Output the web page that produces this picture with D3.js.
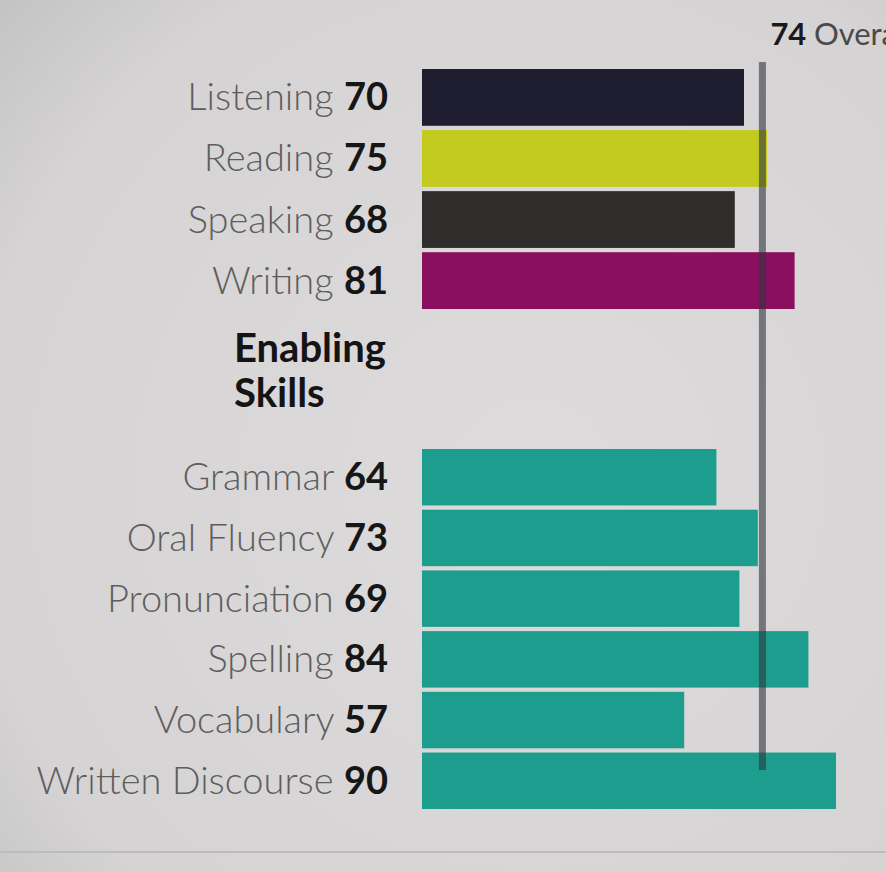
<!DOCTYPE html>
<html>
<head>
<meta charset="utf-8">
<script src="https://cdn.jsdelivr.net/npm/d3@7"></script>
<style>
  html, body { margin: 0; padding: 0; background: #d6d4d4; }
  svg { display: block; }
</style>
</head>
<body>
<svg id="chart" width="886" height="872"></svg>
<script>
// ---- data ----
const communicativeSkills = ["Listening", "Reading", "Speaking", "Writing"];
const communicativeScores = [70, 75, 68, 81];
const communicativeColors = ["#1f1e30", "#c3cb1f", "#2f2d2b", "#8b0f5f"];

const enablingSkills = ["Grammar", "Oral Fluency", "Pronunciation", "Spelling", "Vocabulary", "Written Discourse"];
const enablingScores = [64, 73, 69, 84, 57, 90];
const enablingColor = "#1c9d8e";

const overallScore = 74;
const overallLabel = "Overall";
const sectionHeading = ["Enabling", "Skills"];

// ---- layout ----
const W = 886, H = 872;
const svg = d3.select("#chart");
const defs = svg.append("defs");
const grad = defs.append("radialGradient").attr("id", "bg")
  .attr("cx", "0.6").attr("cy", "0.55").attr("r", "0.9");
grad.append("stop").attr("offset", "0%").attr("stop-color", "#dddbdb");
grad.append("stop").attr("offset", "70%").attr("stop-color", "#d5d3d3");
grad.append("stop").attr("offset", "100%").attr("stop-color", "#bcbbbb");
svg.append("rect").attr("width", W).attr("height", H).attr("fill", "url(#bg)");

const x = d3.scaleLinear().domain([0, 90]).range([422, 836]);

const yTop = d3.scaleBand().domain(communicativeSkills).range([69, 309]).paddingInner(0.07);
const yBot = d3.scaleBand().domain(enablingSkills).range([449, 809]).paddingInner(0.07);

const font = "Lato, 'Open Sans', sans-serif";
const labelEnd = x(0) - 34;

function drawGroup(names, scores, colorFn, y) {
  const data = names.map((n, i) => ({ name: n, score: scores[i], i }));
  const g = svg.append("g");
  g.selectAll("rect").data(data).join("rect")
    .attr("x", x(0))
    .attr("y", d => y(d.name))
    .attr("width", d => x(d.score) - x(0))
    .attr("height", y.bandwidth())
    .attr("fill", d => colorFn(d));
  const t = g.selectAll("text").data(data).join("text")
    .attr("x", labelEnd)
    .attr("y", d => y(d.name) + y.bandwidth() / 2 + 13)
    .attr("text-anchor", "end")
    .style("font-family", font)
    .style("font-size", "38px");
  t.append("tspan").text(d => d.name + " ")
    .attr("fill", "#5e5e5e").style("font-weight", 300);
  t.append("tspan").text(d => d.score)
    .attr("fill", "#161616").style("font-weight", 700);
}

drawGroup(communicativeSkills, communicativeScores, d => communicativeColors[d.i], yTop);
drawGroup(enablingSkills, enablingScores, () => enablingColor, yBot);

// heading
const head = svg.append("text")
  .attr("x", 234).attr("y", 362)
  .style("font-family", font).style("font-size", "40px").style("font-weight", 700)
  .attr("fill", "#141414");
head.selectAll("tspan").data(sectionHeading).join("tspan")
  .attr("x", 234).attr("dy", (d, i) => i === 0 ? 0 : 45)
  .text(d => d);

// overall reference line
svg.append("line")
  .attr("x1", x(overallScore)).attr("x2", x(overallScore))
  .attr("y1", 62).attr("y2", 770)
  .attr("stroke", "#2e353c").attr("stroke-opacity", 0.6)
  .attr("stroke-width", 7);

const ov = svg.append("text")
  .attr("x", x(overallScore) + 8).attr("y", 45)
  .style("font-family", font).style("font-size", "31px");
ov.append("tspan").text(overallScore + " ").attr("fill", "#1a1a1a").style("font-weight", 700);
ov.append("tspan").text(overallLabel).attr("fill", "#4a4a4a").style("font-weight", 400);

// faint bottom border
svg.append("line").attr("x1", 0).attr("x2", W).attr("y1", 852).attr("y2", 852)
  .attr("stroke", "#bdbcbc").attr("stroke-width", 2);
</script>
</body>
</html>
